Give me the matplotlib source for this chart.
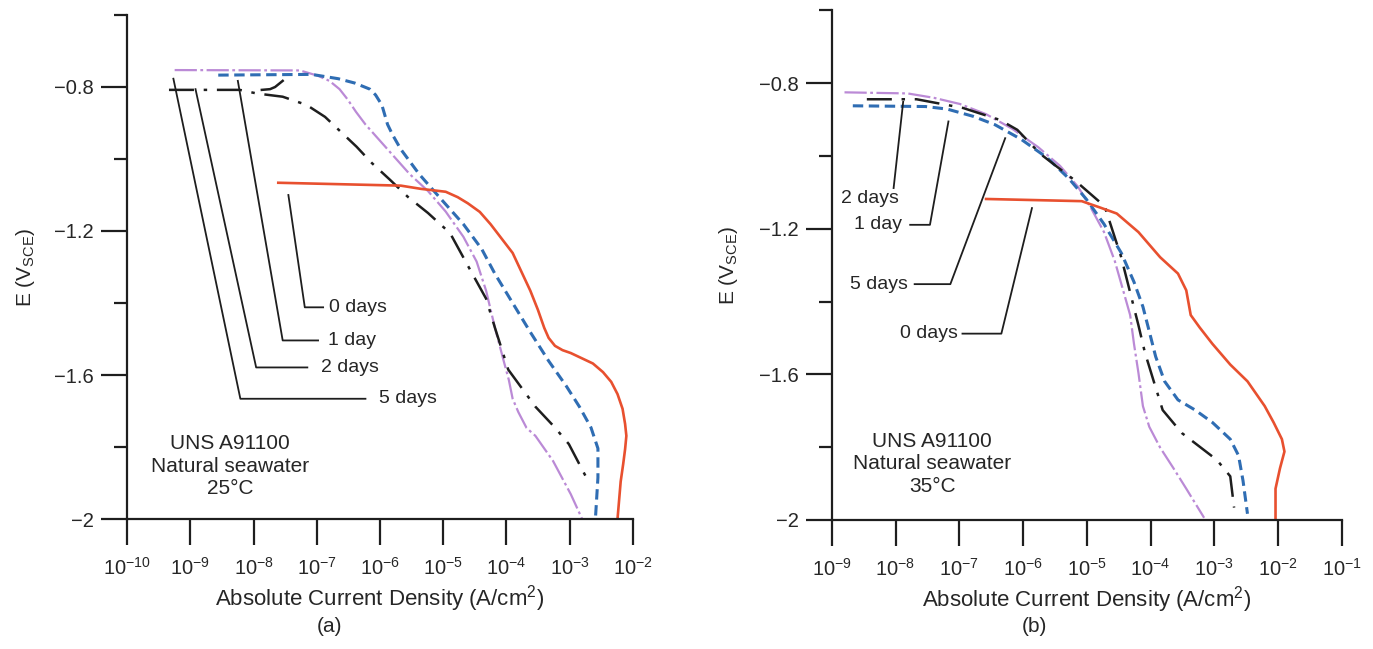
import numpy as np
import matplotlib
matplotlib.use("Agg")
import matplotlib.pyplot as plt
from matplotlib.ticker import FixedLocator, NullLocator, FuncFormatter

plt.rcParams['font.family'] = ['Liberation Sans', 'DejaVu Sans']
plt.rcParams['mathtext.fontset'] = 'custom'
plt.rcParams['mathtext.rm'] = 'Liberation Sans'
plt.rcParams['mathtext.it'] = 'Liberation Sans:italic'
plt.rcParams['mathtext.bf'] = 'Liberation Sans:bold'
plt.rcParams['lines.scale_dashes'] = False

# ---------------- data: log10 of current density (A/cm2) and potential (V vs SCE) ----------------
# Panel (a): 25 C
a_0d_logi = [-7.61, -5.67, -5.35, -4.96, -4.77, -4.61, -4.42, -4.25, -3.90, -3.62, -3.50, -3.40, -3.33, -3.23, -3.11,
             -2.98, -2.63, -2.47, -2.34, -2.24, -2.16, -2.12, -2.10, -2.12, -2.15, -2.19, -2.24]
a_0d_E    = [-1.066, -1.074, -1.083, -1.091, -1.106, -1.123, -1.147, -1.181, -1.261, -1.366, -1.419, -1.469, -1.497, -1.519, -1.531,
             -1.539, -1.568, -1.592, -1.619, -1.653, -1.694, -1.736, -1.769, -1.806, -1.847, -1.896, -2.000]

a_1d_logi = [-8.56, -7.08, -6.66, -6.40, -6.16, -6.07, -5.97, -5.88, -5.80, -5.67, -5.38, -5.03, -4.68, -4.39, -4.18, -3.90,
             -3.62, -3.33, -3.05, -2.84, -2.66, -2.55, -2.55, -2.59]
a_1d_E    = [-0.767, -0.765, -0.777, -0.789, -0.806, -0.822, -0.850, -0.904, -0.933, -0.973, -1.042, -1.112, -1.181, -1.250, -1.319, -1.400,
             -1.481, -1.561, -1.631, -1.689, -1.746, -1.804, -1.885, -2.000]

a_2d_logi = [-9.34, -8.22, -7.95, -7.54, -7.16, -6.87, -6.37, -6.13, -5.84, -5.56, -5.24, -4.89, -4.61, -4.32, -4.18, -3.97, -3.54, -3.23, -3.01, -2.70]
a_2d_E    = [-0.808, -0.808, -0.818, -0.827, -0.850, -0.883, -0.966, -1.011, -1.058, -1.105, -1.150, -1.206, -1.296, -1.388, -1.469, -1.585, -1.688, -1.746, -1.792, -1.896]
a_2d_anodic_logi = [-7.87, -7.74, -7.66, -7.54]
a_2d_anodic_E    = [-0.808, -0.806, -0.800, -0.783]

a_5d_logi = [-9.25, -7.27, -7.15, -6.98, -6.80, -6.64, -6.51, -6.38, -6.23, -5.88, -5.53, -5.24, -4.96, -4.68, -4.47, -4.32, -4.18,
             -4.04, -3.96, -3.90, -3.81, -3.68, -3.54, -3.26, -2.98, -2.80]
a_5d_E    = [-0.753, -0.754, -0.760, -0.769, -0.783, -0.806, -0.835, -0.869, -0.904, -0.973, -1.042, -1.089, -1.146, -1.216, -1.285, -1.366, -1.469,
             -1.562, -1.614, -1.666, -1.703, -1.747, -1.769, -1.839, -1.931, -2.000]

# Panel (b): 35 C
b_0d_logi = [-6.58, -5.08, -4.80, -4.53, -4.19, -3.85, -3.57, -3.44, -3.37, -3.23, -3.03, -2.75, -2.48, -2.21, -2.07, -1.94, -1.90, -1.97, -2.04, -2.04]
b_0d_E    = [-1.118, -1.124, -1.141, -1.158, -1.209, -1.278, -1.323, -1.369, -1.437, -1.471, -1.516, -1.573, -1.619, -1.687, -1.732, -1.778, -1.812, -1.858, -1.914, -2.000]

b_1d_logi = [-8.67, -7.53, -7.19, -6.78, -6.44, -6.03, -5.62, -5.28, -5.01, -4.73, -4.46, -4.26, -4.12, -4.02, -3.92, -3.78, -3.57, -3.30, -3.03, -2.75, -2.62, -2.55, -2.48]
b_1d_E    = [-0.862, -0.864, -0.871, -0.891, -0.914, -0.954, -1.005, -1.062, -1.118, -1.187, -1.266, -1.346, -1.414, -1.482, -1.551, -1.619, -1.670, -1.698, -1.732, -1.778, -1.823, -1.892, -1.983]

b_2d_logi = [-8.45, -7.67, -6.94, -6.36, -6.09, -5.73, -5.18, -4.72, -4.46, -4.19, -4.09, -3.95, -3.81, -3.51, -2.96, -2.75, -2.69]
b_2d_E    = [-0.844, -0.844, -0.868, -0.901, -0.928, -0.994, -1.068, -1.138, -1.278, -1.465, -1.539, -1.619, -1.698, -1.761, -1.835, -1.880, -1.966]

b_5d_logi = [-8.80, -7.81, -7.40, -6.99, -6.58, -6.17, -5.76, -5.42, -5.14, -4.94, -4.73, -4.56, -4.43, -4.32, -4.26, -4.19, -4.12, -4.02, -3.85, -3.64, -3.44, -3.16]
b_5d_E    = [-0.825, -0.828, -0.840, -0.857, -0.885, -0.925, -0.976, -1.027, -1.084, -1.141, -1.209, -1.289, -1.369, -1.437, -1.516, -1.596, -1.687, -1.744, -1.801, -1.858, -1.914, -1.994]

# leader lines for the curve labels: (log10 i, E) vertices, text anchor, alignment
a_labels = [
    ("0 days", [(-7.45, -1.100), (-7.19, -1.412), (-6.90, -1.412)], (-6.80, -1.412), 'left'),
    ("1 day",  [(-8.25, -0.783), (-7.54, -1.504), (-6.98, -1.504)], (-6.83, -1.504), 'left'),
    ("2 days", [(-8.92, -0.806), (-7.96, -1.579), (-7.15, -1.579)], (-6.94, -1.579), 'left'),
    ("5 days", [(-9.27, -0.777), (-8.21, -1.666), (-6.23, -1.666)], (-6.02, -1.666), 'left'),
]
b_labels = [
    ("2 days", [(-7.88, -0.851), (-8.03, -1.088)], (-8.40, -1.117), 'center'),
    ("1 day",  [(-7.17, -0.905), (-7.46, -1.189), (-7.77, -1.189)], (-7.90, -1.189), 'right'),
    ("5 days", [(-6.28, -0.951), (-7.14, -1.352), (-7.70, -1.352)], (-7.80, -1.352), 'right'),
    ("0 days", [(-5.86, -1.143), (-6.34, -1.488), (-6.95, -1.488)], (-7.02, -1.488), 'right'),
]

TEXT = '#262626'
RED = '#e8502f'
BLUE = '#2f6db3'
PURPLE = '#bb8ad6'
BLACK = '#1e1e1e'


def draw_panel(ax, decades, curves, labels, note):
    (c0, c1, c2, c2a, c5) = curves
    ax.plot(10.0 ** np.array(c5[0]), c5[1], color=PURPLE, lw=1.6, dashes=(16, 2.5, 2, 2.5))
    ax.plot(10.0 ** np.array(c1[0]), c1[1], color=BLUE, lw=2.2, dashes=(7.5, 4))
    ax.plot(10.0 ** np.array(c2[0]), c2[1], color=BLACK, lw=1.8, dashes=(18, 7, 2.5, 7))
    if c2a is not None:
        ax.plot(10.0 ** np.array(c2a[0]), c2a[1], color=BLACK, lw=1.8)
    ax.plot(10.0 ** np.array(c0[0]), c0[1], color=RED, lw=1.9)

    for text, verts, anchor, ha in labels:
        vx = [10.0 ** v[0] for v in verts]
        vy = [v[1] for v in verts]
        ax.plot(vx, vy, color=BLACK, lw=1.3)
        ax.text(10.0 ** anchor[0], anchor[1], text, ha=ha, va='center',
                fontsize=14, color=TEXT)

    ax.set_xscale('log')
    ax.set_xlim(10.0 ** decades[0], 10.0 ** decades[-1])
    ax.set_ylim(-2.0, -0.6)
    ax.xaxis.set_major_locator(FixedLocator([10.0 ** d for d in decades]))
    ax.xaxis.set_minor_locator(NullLocator())
    ax.xaxis.set_major_formatter(FuncFormatter(lambda v, p: r'$10^{%d}$' % int(round(np.log10(v)))))
    ax.yaxis.set_major_locator(FixedLocator([-2.0, -1.6, -1.2, -0.8]))
    ax.yaxis.set_minor_locator(FixedLocator([-1.8, -1.4, -1.0, -0.6]))
    ax.yaxis.set_major_formatter(FuncFormatter(lambda v, p: ('%g' % v).replace('-', '\u2212')))

    for s in ('top', 'right'):
        ax.spines[s].set_visible(False)
    for s in ('left', 'bottom'):
        ax.spines[s].set_linewidth(1.6)
        ax.spines[s].set_color(BLACK)
    ax.tick_params(axis='x', which='major', direction='out', length=18.5, width=1.6,
                   color=BLACK, labelsize=14.5, labelcolor=TEXT, pad=9)
    ax.tick_params(axis='y', which='major', direction='out', length=19, width=1.6,
                   color=BLACK, labelsize=14.5, labelcolor=TEXT, pad=5)
    ax.tick_params(axis='y', which='minor', direction='out', length=9.5, width=1.6, color=BLACK)

    ax.set_xlabel('Absolute Current Density (A/cm$^2$)', fontsize=16, color=TEXT)
    ax.xaxis.set_label_coords(0.5, -0.157)
    ax.xaxis.label.set_va('center')
    ax.set_ylabel(r'E (V$_{\mathrm{SCE}}$)', fontsize=15, color=TEXT)
    ax.yaxis.set_label_coords(-0.202, 0.5)
    ax.yaxis.label.set_va('center')

    ax.text(note[0], note[1], note[2], transform=ax.transAxes, ha='center', va='center',
            fontsize=15, color=TEXT, linespacing=1.25)
    ax.patch.set_alpha(0)


fig = plt.figure(figsize=(13.73, 6.49), dpi=100)
ax_a = fig.add_axes([0.0927, 0.2003, 0.3681, 0.7766])
ax_b = fig.add_axes([0.6058, 0.1988, 0.3715, 0.7851])

draw_panel(ax_a, list(range(-10, -1)),
           ((a_0d_logi, a_0d_E), (a_1d_logi, a_1d_E), (a_2d_logi, a_2d_E),
            (a_2d_anodic_logi, a_2d_anodic_E), (a_5d_logi, a_5d_E)),
           a_labels, (0.203, 0.105, 'UNS A91100\nNatural seawater\n25\u00b0C'))
draw_panel(ax_b, list(range(-9, 0)),
           ((b_0d_logi, b_0d_E), (b_1d_logi, b_1d_E), (b_2d_logi, b_2d_E),
            None, (b_5d_logi, b_5d_E)),
           b_labels, (0.197, 0.110, 'UNS A91100\nNatural seawater\n35\u00b0C'))

fig.text(329.7 / 1373, 1 - 626 / 649, '(a)', ha='center', va='center', fontsize=15, color=TEXT)
fig.text(1034 / 1373, 1 - 626 / 649, '(b)', ha='center', va='center', fontsize=15, color=TEXT)

fig.savefig('out.png', dpi=100, facecolor='white')
